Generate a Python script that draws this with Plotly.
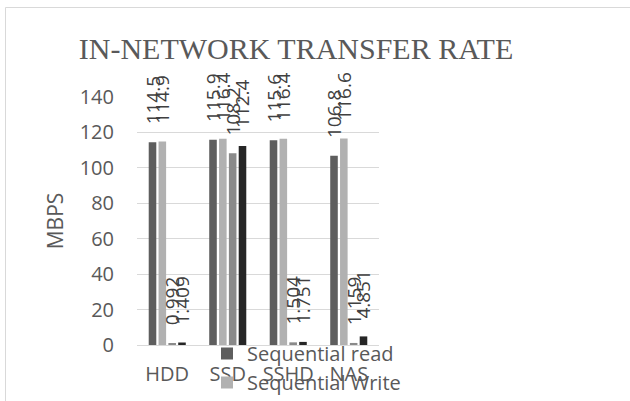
import plotly.graph_objects as go

# Drive types on the x axis
categories = ["HDD", "SSD", "SSHD", "NAS"]

# Measured transfer rates (MB/s) per test
seq_read = [114.5, 115.9, 115.6, 106.8]
seq_write = [114.9, 116.4, 116.4, 116.6]
rand_read = [0.992, 108.2, 1.504, 1.159]
rand_write = [1.409, 112.4, 1.751, 4.851]

series_names = ["Sequential read", "Sequential Write", "4K random read", "4K random write"]
series_values = [seq_read, seq_write, rand_read, rand_write]
series_colors = ["#5e5e5e", "#b1b1b1", "#8a8a8a", "#262626"]

y_ticks = [0, 20, 40, 60, 80, 100, 120, 140]

FONT = "Open Sans"
GREY = "#595959"

fig = go.Figure()
for name, vals, color in zip(series_names, series_values, series_colors):
    fig.add_trace(go.Bar(
        x=categories,
        y=vals,
        name=name,
        marker=dict(color=color, line=dict(width=0)),
        texttemplate="\u00a0\u00a0\u00a0%{y}",
        textposition="outside",
        textangle=-90,
        constraintext="none",
        cliponaxis=False,
        textfont=dict(family=FONT, size=19, color="#404040"),
    ))

fig.update_layout(
    width=630,
    height=401,
    margin=dict(l=137, r=251, t=97, b=56, autoexpand=False),
    paper_bgcolor="white",
    plot_bgcolor="white",
    barmode="group",
    bargap=0.35,
    bargroupgap=0.23,
    title=dict(
        text="IN-NETWORK TRANSFER RATE",
        font=dict(family="Liberation Serif", size=30, color=GREY),
        xref="container", x=296 / 630, xanchor="center",
        yref="container", y=1 - 48 / 401, yanchor="middle",
    ),
    xaxis=dict(
        showgrid=False,
        showline=True,
        linecolor="#d9d9d9",
        linewidth=1,
        ticks="",
        tickfont=dict(family=FONT, size=20, color=GREY),
        ticklabelstandoff=11,
    ),
    yaxis=dict(
        range=[0, 140],
        tickvals=y_ticks,
        showgrid=True,
        gridcolor="#d9d9d9",
        gridwidth=1,
        zeroline=False,
        showline=False,
        ticks="",
        tickfont=dict(family=FONT, size=20, color=GREY),
        ticklabelstandoff=22,
        title=dict(text="MBPS", font=dict(family=FONT, size=21, color=GREY), standoff=10),
    ),
    legend=dict(
        orientation="v",
        x=(207 - 137) / 242,
        xanchor="left",
        y=(345 - 334) / 248,
        yanchor="top",
        bgcolor="rgba(0,0,0,0)",
        font=dict(family=FONT, size=20, color=GREY),
        traceorder="normal",
    ),
    shapes=[dict(
        type="rect", xref="paper", yref="paper",
        x0=(5.5 - 137) / 242, x1=2.5,
        y0=-1.0, y1=(345 - 7.5) / 248,
        line=dict(color="#d9d9d9", width=1),
        fillcolor="rgba(0,0,0,0)",
        layer="below",
    )],
)

fig.write_html("out.html")
